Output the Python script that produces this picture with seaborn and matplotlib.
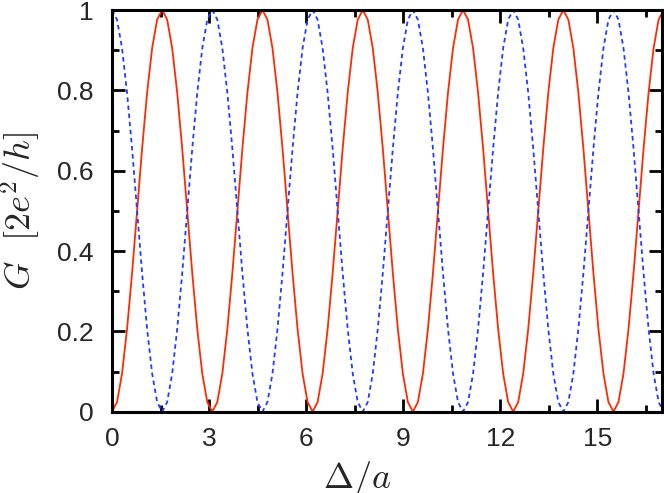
import numpy as np
import matplotlib
matplotlib.use("Agg")
import matplotlib.pyplot as plt
import seaborn as sns
from matplotlib.ticker import MultipleLocator

# Data: sampling grid in Delta/a (step ~0.155, 20 samples per period)
delta = np.linspace(0, 17.05, 111)

# G in units of 2e^2/h, red (solid) curve
g_red = [
    0, 0.024, 0.095, 0.206, 0.345, 0.5, 0.655, 0.794, 0.905, 0.976,
    1, 0.976, 0.905, 0.794, 0.655, 0.5, 0.345, 0.206, 0.095, 0.024,
    0, 0.024, 0.095, 0.206, 0.345, 0.5, 0.655, 0.794, 0.905, 0.976,
    1, 0.976, 0.905, 0.794, 0.655, 0.5, 0.345, 0.206, 0.095, 0.024,
    0, 0.024, 0.095, 0.206, 0.345, 0.5, 0.655, 0.794, 0.905, 0.976,
    1, 0.976, 0.905, 0.794, 0.655, 0.5, 0.345, 0.206, 0.095, 0.024,
    0, 0.024, 0.095, 0.206, 0.345, 0.5, 0.655, 0.794, 0.905, 0.976,
    1, 0.976, 0.905, 0.794, 0.655, 0.5, 0.345, 0.206, 0.095, 0.024,
    0, 0.024, 0.095, 0.206, 0.345, 0.5, 0.655, 0.794, 0.905, 0.976,
    1, 0.976, 0.905, 0.794, 0.655, 0.5, 0.345, 0.206, 0.095, 0.024,
    0, 0.024, 0.095, 0.206, 0.345, 0.5, 0.655, 0.794, 0.905, 0.976,
    1,
]

# blue (dashed) curve
g_blue = [
    1, 0.976, 0.905, 0.794, 0.655, 0.5, 0.345, 0.206, 0.095, 0.024,
    0, 0.024, 0.095, 0.206, 0.345, 0.5, 0.655, 0.794, 0.905, 0.976,
    1, 0.976, 0.905, 0.794, 0.655, 0.5, 0.345, 0.206, 0.095, 0.024,
    0, 0.024, 0.095, 0.206, 0.345, 0.5, 0.655, 0.794, 0.905, 0.976,
    1, 0.976, 0.905, 0.794, 0.655, 0.5, 0.345, 0.206, 0.095, 0.024,
    0, 0.024, 0.095, 0.206, 0.345, 0.5, 0.655, 0.794, 0.905, 0.976,
    1, 0.976, 0.905, 0.794, 0.655, 0.5, 0.345, 0.206, 0.095, 0.024,
    0, 0.024, 0.095, 0.206, 0.345, 0.5, 0.655, 0.794, 0.905, 0.976,
    1, 0.976, 0.905, 0.794, 0.655, 0.5, 0.345, 0.206, 0.095, 0.024,
    0, 0.024, 0.095, 0.206, 0.345, 0.5, 0.655, 0.794, 0.905, 0.976,
    1, 0.976, 0.905, 0.794, 0.655, 0.5, 0.345, 0.206, 0.095, 0.024,
    0,
]

x_ticks = [0, 3, 6, 9, 12, 15]
y_ticks = [0, 0.2, 0.4, 0.6, 0.8, 1]
y_tick_labels = ["0", "0.2", "0.4", "0.6", "0.8", "1"]

sns.set_style("ticks")
plt.rcParams["font.family"] = ["Liberation Sans", "DejaVu Sans"]
plt.rcParams["mathtext.fontset"] = "cm"

fig = plt.figure(figsize=(6.64, 4.93), dpi=100)
ax = fig.add_axes([0.1687, 0.1649, 0.8283, 0.8148])

sns.lineplot(x=delta, y=g_red, ax=ax, color="#ff2a00", linewidth=1.3)
sns.lineplot(x=delta, y=g_blue, ax=ax, color="#1f3dff", linewidth=1.3,
             linestyle=(0, (2.5, 2.0)))

ax.set_xlim(0, 17)
ax.set_ylim(0, 1)
ax.set_xticks(x_ticks)
ax.set_xticklabels([str(t) for t in x_ticks])
ax.set_yticks(y_ticks)
ax.set_yticklabels(y_tick_labels)
ax.xaxis.set_minor_locator(MultipleLocator(1.5))
ax.yaxis.set_minor_locator(MultipleLocator(0.1))

ax.tick_params(which="both", direction="in", top=True, right=True, width=2,
               labelsize=19, color="black")
ax.tick_params(axis="y", which="both", pad=13)
ax.tick_params(axis="x", which="both", pad=11)
ax.tick_params(which="major", length=9.5)
ax.tick_params(which="minor", length=5)
for s in ax.spines.values():
    s.set_linewidth(2.2)
    s.set_color("black")

ax.set_xlabel(r"$\Delta/a$", fontsize=26)
ax.set_ylabel(r"$G\ \ [2e^2/h]$", fontsize=26)
ax.xaxis.set_label_coords(0.445, -0.118)
ax.yaxis.set_label_coords(-0.125, 0.5)

fig.savefig("out.png", dpi=100)
